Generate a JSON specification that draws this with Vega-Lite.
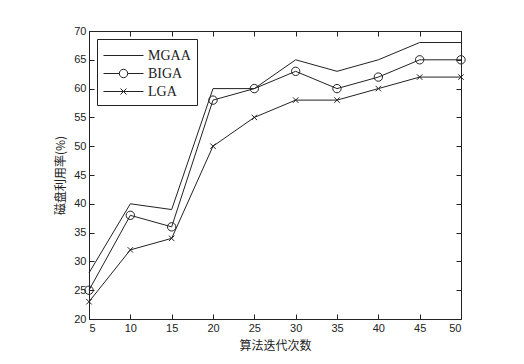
{
  "$schema": "https://vega.github.io/schema/vega-lite/v6.json",
  "width": 372,
  "height": 288,
  "autosize": {"type": "none"},
  "padding": {"left": 89, "top": 31, "right": 63, "bottom": 45},
  "background": "white",
  "config": {
    "view": {"stroke": "#222", "strokeWidth": 1},
    "axis": {
      "grid": false,
      "domain": false,
      "tickColor": "#222",
      "tickSize": -5,
      "labelFont": "Liberation Sans",
      "labelFontSize": 11,
      "labelColor": "#222",
      "titleFont": "Noto Sans CJK SC",
      "titleFontSize": 12,
      "titleFontWeight": "normal",
      "titleColor": "#222"
    }
  },
  "data": {
    "values": [
      {"x": 5, "v": 28, "s": "MGAA"}, {"x": 10, "v": 40, "s": "MGAA"}, {"x": 15, "v": 39, "s": "MGAA"},
      {"x": 20, "v": 60, "s": "MGAA"}, {"x": 25, "v": 60, "s": "MGAA"}, {"x": 30, "v": 65, "s": "MGAA"},
      {"x": 35, "v": 63, "s": "MGAA"}, {"x": 40, "v": 65, "s": "MGAA"}, {"x": 45, "v": 68, "s": "MGAA"},
      {"x": 50, "v": 68, "s": "MGAA"},
      {"x": 5, "v": 25, "s": "BIGA"}, {"x": 10, "v": 38, "s": "BIGA"}, {"x": 15, "v": 36, "s": "BIGA"},
      {"x": 20, "v": 58, "s": "BIGA"}, {"x": 25, "v": 60, "s": "BIGA"}, {"x": 30, "v": 63, "s": "BIGA"},
      {"x": 35, "v": 60, "s": "BIGA"}, {"x": 40, "v": 62, "s": "BIGA"}, {"x": 45, "v": 65, "s": "BIGA"},
      {"x": 50, "v": 65, "s": "BIGA"},
      {"x": 5, "v": 23, "s": "LGA"}, {"x": 10, "v": 32, "s": "LGA"}, {"x": 15, "v": 34, "s": "LGA"},
      {"x": 20, "v": 50, "s": "LGA"}, {"x": 25, "v": 55, "s": "LGA"}, {"x": 30, "v": 58, "s": "LGA"},
      {"x": 35, "v": 58, "s": "LGA"}, {"x": 40, "v": 60, "s": "LGA"}, {"x": 45, "v": 62, "s": "LGA"},
      {"x": 50, "v": 62, "s": "LGA"}
    ]
  },
  "layer": [
    {
      "mark": {"type": "line", "color": "#222", "strokeWidth": 1},
      "encoding": {
        "x": {"field": "x", "type": "quantitative", "scale": {"domain": [5, 50], "nice": false},
              "axis": {"orient": "bottom", "values": [5,10,15,20,25,30,35,40,45,50], "title": "算法迭代次数", "labelPadding": 8, "titlePadding": 7}},
        "y": {"field": "v", "type": "quantitative", "scale": {"domain": [20, 70], "nice": false},
              "axis": {"orient": "left", "values": [20,25,30,35,40,45,50,55,60,65,70], "title": "磁盘利用率(%)", "labelPadding": 8, "titlePadding": 6}},
        "detail": {"field": "s"}
      }
    },
    {
      "transform": [{"filter": "datum.s !== 'MGAA'"}],
      "mark": {"type": "point", "filled": false, "color": "#222", "strokeWidth": 1, "opacity": 1},
      "encoding": {
        "x": {"field": "x", "type": "quantitative", "axis": null},
        "y": {"field": "v", "type": "quantitative", "axis": null},
        "shape": {"field": "s", "type": "nominal", "scale": {"domain": ["BIGA", "LGA"], "range": ["circle", "M-1,-1L1,1M-1,1L1,-1"]}, "legend": null},
        "size": {"field": "s", "type": "nominal", "scale": {"domain": ["BIGA", "LGA"], "range": [70, 30]}, "legend": null}
      }
    },
    {
      "mark": {"type": "point", "filled": false, "color": "#222", "opacity": 0, "size": 400},
      "encoding": {
        "x": {"field": "x", "type": "quantitative",
              "axis": {"orient": "top", "values": [5,10,15,20,25,30,35,40,45,50], "labels": false, "title": null}},
        "y": {"field": "v", "type": "quantitative",
              "axis": {"orient": "right", "values": [20,25,30,35,40,45,50,55,60,65,70], "labels": false, "title": null}},
        "shape": {
          "field": "s", "type": "nominal",
          "scale": {"domain": ["MGAA", "BIGA", "LGA"],
                    "range": ["M-2,0H2", "M-2,0H-0.42M0.42,0H2M-0.42,0A0.42,0.42 0 1,0 0.42,0A0.42,0.42 0 1,0 -0.42,0", "M-2,0H2M-0.3,-0.3L0.3,0.3M-0.3,0.3L0.3,-0.3"]},
          "sort": ["MGAA", "BIGA", "LGA"],
          "legend": {
            "title": null,
            "orient": "top-left",
            "offset": 8,
            "padding": 6,
            "strokeColor": "#222",
            "fillColor": "white",
            "symbolSize": 400,
            "symbolOffset": 10,
            "labelOffset": 14,
            "rowPadding": -2,
            "labelFont": "Liberation Serif",
            "labelFontSize": 14,
            "labelColor": "#222",
            "symbolStrokeWidth": 1,
            "encode": {
              "symbols": {"update": {"opacity": {"value": 1}, "strokeOpacity": {"value": 1}, "stroke": {"value": "#222"}, "fill": {"value": "transparent"}}}
            }
          }
        }
      }
    }
  ],
  "resolve": {
    "scale": {"shape": "independent", "size": "independent"},
    "axis": {"x": "independent", "y": "independent"}
  }
}
